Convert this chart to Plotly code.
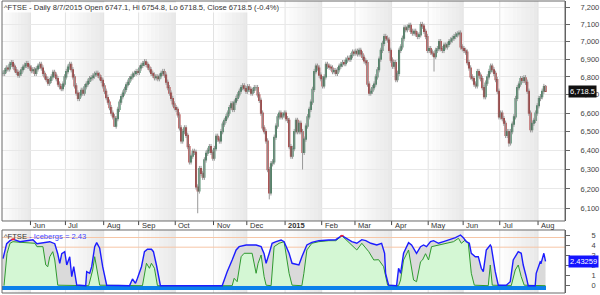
import math
import pandas as pd
import plotly.graph_objects as go

# ---------------- data ----------------
START_DATE = "2014-05-08"
CLOSE = [
    6820, 6835, 6850, 6845, 6870, 6880, 6860, 6840, 6825, 6810,
    6820, 6840, 6855, 6865, 6875, 6860, 6850, 6835, 6840, 6820,
    6845, 6860, 6870, 6850, 6820, 6800, 6785, 6765, 6780, 6800,
    6825, 6810, 6790, 6760, 6745, 6735, 6760, 6800, 6830, 6855,
    6870, 6840, 6800, 6750, 6710, 6680, 6700, 6725, 6710, 6745,
    6760, 6775, 6790, 6795, 6805, 6815, 6820, 6810, 6795, 6780,
    6750, 6720, 6685, 6660, 6630, 6600, 6580, 6530, 6570, 6620,
    6660, 6690, 6710, 6730, 6755, 6770, 6790, 6800, 6815, 6820,
    6830, 6825, 6850, 6865, 6875, 6885, 6870, 6855, 6840, 6820,
    6810, 6795, 6800, 6790, 6805, 6820, 6830, 6810, 6770, 6740,
    6710, 6680, 6650, 6630, 6620, 6590, 6520, 6450, 6500, 6520,
    6480, 6420, 6340, 6370, 6395, 6390, 6210, 6190, 6305, 6280,
    6260, 6350, 6385, 6400, 6420, 6390, 6360, 6410, 6475, 6460,
    6450, 6500, 6540, 6560, 6580, 6600, 6630, 6650, 6620, 6660,
    6680, 6700, 6720, 6740, 6750, 6735, 6720, 6745, 6730, 6710,
    6725, 6740, 6740, 6700, 6670, 6600, 6520, 6500, 6450, 6300,
    6180, 6330, 6340, 6470, 6530, 6580, 6600, 6580, 6590, 6600,
    6570, 6560, 6420, 6370, 6410, 6500, 6560, 6500, 6545, 6500,
    6390, 6460, 6530, 6580, 6620, 6660, 6730, 6830, 6860, 6850,
    6810, 6790, 6750, 6800, 6870, 6860, 6855, 6850, 6830, 6835,
    6820, 6840, 6860, 6870, 6880, 6875, 6895, 6905, 6900, 6920,
    6940, 6935, 6945, 6930, 6950, 6930, 6910, 6890, 6880, 6760,
    6710, 6720, 6740, 6760, 6800, 6840, 6900, 6950, 6990, 7030,
    7020, 7010, 6950, 6895, 6860, 6880, 6785, 6820, 6950, 6970,
    7020, 7080, 7070, 7085, 7095, 7060, 7050, 7060, 7045, 7030,
    7040, 7100, 7090, 7060, 7030, 6950, 6960, 6940, 6930, 6915,
    6950, 6960, 7000, 6960, 6950, 6980, 6970, 6985, 7000, 7010,
    7020, 7030, 7040, 7045, 7050, 6970, 6960, 6950, 6940, 6880,
    6850, 6800, 6790, 6760, 6750, 6830, 6810, 6790, 6740, 6690,
    6765, 6800, 6830, 6860, 6840, 6820, 6785, 6720, 6580, 6600,
    6570, 6545, 6480, 6500, 6440, 6500, 6540, 6580, 6680, 6740,
    6760, 6790, 6780, 6795, 6770, 6720, 6600, 6510, 6545, 6560,
    6600, 6640, 6680, 6690, 6720, 6746, 6718.5,
]
LAST_OPEN, LAST_HIGH, LAST_LOW = 6747.1, 6754.8, 6718.5
WICK = 0.0022
DEEP_LOWS = {67: 6525, 117: 6077, 160: 6147, 180: 6300, 259: 6830, 304: 6420}

# Icebergs indicator (x = bar index, value)
BLUE_X = [0, 2.2, 4.2, 6, 10.2, 16.2, 18, 20.4, 24, 28.1, 31.1, 32.9, 34.1, 35.3, 37.1, 38.3,
          40.1, 41.3, 42.5, 44.3, 49.7, 50.3, 52.1, 53.3, 55.1, 56.3, 58.1, 59.9, 62.3, 76,
          77.8, 79.6, 80.8, 83.2, 85, 86.8, 89.2, 90.4, 92.2, 94, 94.6, 131.7, 134.7, 137.7,
          140.1, 141.9, 146.1, 152.1, 155.1, 156.9, 158.1, 159.9, 161.7, 164.1, 167.1, 168.9,
          171.9, 173.7, 176.6, 177.8, 179.6, 182.6, 185.6, 189.8, 195.8, 200, 203.6, 206.6,
          209.6, 212.6, 215.6, 218, 221, 224.6, 227.5, 229.3, 229.9, 231.7, 236.5, 237.7,
          238.9, 240.7, 243.7, 245.5, 248.5, 250.9, 252.7, 254.5, 256.9, 258.7, 261.7, 264.7,
          268.9, 271.9, 274.9, 276.6, 278.4, 280.2, 281.4, 283.8, 285.6, 287.4, 288.6, 290.4,
          292.8, 293.4, 295.8, 297.6, 302.4, 304.8, 306.6, 309.6, 311.4, 312.6, 314.4, 315.6,
          319.8, 320.4, 322.8, 323.4, 325, 326]
BLUE_V = [2.7, 4.2, 4.5, 4.65, 4.4, 4.57, 4.6, 4.2, 4.3, 4.4, 4.2, 3.2, 2.24, 3.2, 3.4, 2.07,
          2.9, 0.9, 1.9, 0.07, 0, 1.4, 1.24, 1.9, 3.9, 4.3, 3.74, 1.9, 0.05, 0,
          0.67, 0.24, 0.74, 1.9, 3.4, 3.64, 3.64, 3.4, 2.07, 0.17, 0, 0, 1.4, 2.57,
          3.57, 3.9, 4.07, 4.07, 3.9, 3.2, 2.24, 3.2, 4.24, 4.4, 4.57, 4.4,
          3.24, 2.24, 2.07, 2.07, 2.9, 4.07, 4.34, 4.5, 4.57, 4.6, 5.0, 4.74,
          4.4, 4.24, 4.6, 4.5, 4.24, 4.07, 4.24, 3.24, 1.24, 0.05, 0, 1.74,
          1.24, 3.24, 4.3, 4.07, 3.24, 3.9, 4.07, 3.9, 4.4, 4.5, 4.24, 4.4,
          4.6, 4.8, 5.07, 4.8, 4.4, 4.24, 3.24, 2.9, 2.9, 1.74, 1.4, 3.57,
          4.07, 3.9, 1.4, 0.05, 0.05, 0.4, 2.57, 3.4, 3.24, 2.07, 0.9, 0,
          0, 1.24, 2.4, 2.3, 3.24, 2.43]
GREEN_X = [0.6, 2.4, 4.2, 6, 10.2, 16.2, 19.2, 20.4, 24, 25.7, 26.9, 28.1, 29.9, 31.1, 32.9,
           51.5, 53.9, 55.1, 56.3, 58.1, 83.8, 86.2, 88, 89.2, 91, 92.8, 137.7, 138.9, 140.7,
           143.1, 144.9, 149.7, 152.1, 153.3, 155.1, 156.9, 158.1, 161.1, 162.9, 165.9, 168.9,
           171.9, 173.7, 179.6, 180.8, 182.6, 185.6, 189.8, 195.8, 200, 203.6, 209.6, 212.6,
           215.6, 219.8, 222.8, 225.7, 228.7, 231.1, 237.7, 238.9, 240.7, 243.7, 246.7, 248.5,
           250.9, 252.1, 253.9, 255.7, 257.5, 261.7, 266.5, 270.7, 273.7, 275.4, 277.8, 279.6,
           281.4, 283.2, 291.6, 292.8, 294, 305.4, 307.8, 309.6, 311.4, 313.2, 326]
GREEN_V = [0, 3.2, 4.24, 4.4, 4.34, 4.3, 4.24, 3.9, 3.9, 2.07, 1.9, 2.9, 3.4, 2.57, 0.05,
           0, 1.57, 2.9, 1.9, 0.05, 0, 2.24, 1.74, 2.24, 1.74, 0, 0, 0.74, 0.4,
           2.9, 3.24, 3.24, 1.24, 2.24, 3.07, 0.9, 0.05, 0, 3.9, 4.24, 4.4,
           1.24, 0.05, 0, 1.24, 3.57, 4.24, 4.4, 4.5, 4.5, 5.0, 4.07, 3.57,
           4.24, 3.4, 2.57, 2.6, 1.9, 0.05, 0, 0.57, 2.57, 3.57, 0.57, 0.4,
           2.4, 2.57, 3.2, 2.57, 3.9, 4.07, 4.24, 4.4, 4.74, 4.24, 4.57, 4.24,
           1.24, 0.05, 0, 2.07, 0.05, 0, 1.57, 2.07, 0.9, 0.05, 0]
RED_X = [[5.0, 7.0], [202.6, 204.6]]
RED_V = [[4.62, 4.66], [4.95, 5.02]]
ZONE_DEPTH = -0.47
ORANGE_LEVELS = [4.82, 3.85]
LAST_ICEBERG = 2.43259

PRICE_TICKS = [6100, 6200, 6300, 6400, 6500, 6600, 6700, 6800, 6900, 7000, 7100, 7200]
LOWER_TICKS = [0, 1, 2, 3, 4, 5]
HEADER = "^FTSE - Daily 8/7/2015 Open 6747.1, Hi 6754.8, Lo 6718.5, Close 6718.5 (-0.4%)"
MONTH_NAMES = {1: "2015", 2: "Feb", 3: "Mar", 4: "Apr", 5: "May", 6: "Jun", 7: "Jul",
               8: "Aug", 9: "Sep", 10: "Oct", 11: "Nov", 12: "Dec"}

# ---------------- build ----------------
n = len(CLOSE)
dates = pd.bdate_range(START_DATE, periods=n)
idx = list(range(n))
OPEN = [CLOSE[0]] + CLOSE[:-1]
OPEN[-1] = LAST_OPEN
HIGH = [max(o, c) * (1 + WICK) for o, c in zip(OPEN, CLOSE)]
LOW = [min(o, c) * (1 - WICK) for o, c in zip(OPEN, CLOSE)]
for k, v in DEEP_LOWS.items():
    LOW[k] = v
HIGH[-1], LOW[-1] = LAST_HIGH, LAST_LOW

month_starts = [i for i in range(1, n) if dates[i].month != dates[i - 1].month]

X0, X1 = -0.6, 337.7
MAIN_DOM = [0.2466, 1.0]
LOW_DOM = [0.0, 0.2158]
FONT = "Liberation Sans, Arial, sans-serif"
GREEN_C, RED_C = "#1c6b40", "#9c1010"

fig = go.Figure()

# wicks
wx, wy = [], []
for i in idx:
    wx += [i, i, None]
    wy += [LOW[i], HIGH[i], None]
fig.add_trace(go.Scatter(x=wx, y=wy, mode="lines", line=dict(color="#999999", width=1),
                         hoverinfo="skip", xaxis="x", yaxis="y"))
# bodies
fig.add_trace(go.Candlestick(
    x=idx, open=OPEN, close=CLOSE,
    high=[max(o, c) for o, c in zip(OPEN, CLOSE)],
    low=[min(o, c) for o, c in zip(OPEN, CLOSE)],
    increasing=dict(line=dict(color=GREEN_C, width=1.2), fillcolor=GREEN_C),
    decreasing=dict(line=dict(color=RED_C, width=1.2), fillcolor=RED_C),
    whiskerwidth=0, xaxis="x", yaxis="y"))

# lower panel
fig.add_trace(go.Bar(x=idx, y=[ZONE_DEPTH] * n, width=1, marker=dict(color="#0b80ea", line=dict(width=0)),
                     xaxis="x2", yaxis="y2"))
fig.add_trace(go.Scatter(x=BLUE_X, y=BLUE_V, mode="lines", fill="tozeroy", fillcolor="#dadada",
                         line=dict(width=0), xaxis="x2", yaxis="y2"))
fig.add_trace(go.Scatter(x=GREEN_X, y=GREEN_V, mode="lines", fill="tozeroy", fillcolor="#d4f7d4",
                         line=dict(color="#2f9a2f", width=1), xaxis="x2", yaxis="y2"))
fig.add_trace(go.Scatter(x=BLUE_X, y=BLUE_V, mode="lines", line=dict(color="#1c1cff", width=1.4),
                         xaxis="x2", yaxis="y2"))
for rx, rv in zip(RED_X, RED_V):
    fig.add_trace(go.Scatter(x=rx, y=rv, mode="lines", line=dict(color="#ff2020", width=1.6),
                             xaxis="x2", yaxis="y2"))

shapes = []
# gradient month shading
bounds = [X0] + [m - 0.5 for m in month_starts] + [n]
for j in range(len(bounds) - 1):
    month = dates[0].month if j == 0 else dates[month_starts[j - 1]].month
    if month % 2 == 1:
        s, e = bounds[j], bounds[j + 1]
        N = 9
        for k in range(N):
            a = 0.0095 * (k + 1)
            for dom in (MAIN_DOM, LOW_DOM):
                shapes.append(dict(type="rect", xref="x", yref="paper",
                                   x0=s + (e - s) * k / N, x1=s + (e - s) * (k + 1) / N,
                                   y0=dom[0], y1=dom[1], fillcolor=f"rgba(0,0,0,{a:.3f})",
                                   line=dict(width=0), layer="below"))
# month gridlines + ticks in date strip
for m in month_starts:
    for dom in (MAIN_DOM, LOW_DOM):
        shapes.append(dict(type="line", xref="x", yref="paper", x0=m - 0.5, x1=m - 0.5,
                           y0=dom[0], y1=dom[1], line=dict(color="#e2e2e2", width=1), layer="below"))
    shapes.append(dict(type="line", xref="x", yref="paper", x0=m - 0.5, x1=m - 0.5,
                       y0=MAIN_DOM[0] - 0.014, y1=MAIN_DOM[0], line=dict(color="#444", width=1)))
# orange levels
for lv in ORANGE_LEVELS:
    shapes.append(dict(type="line", xref="paper", yref="y2", x0=0, x1=1, y0=lv, y1=lv,
                       line=dict(color="#f6c6a6", width=1), layer="below"))
# borders
for dom in (MAIN_DOM, LOW_DOM):
    shapes.append(dict(type="rect", xref="paper", yref="paper", x0=0, x1=1, y0=dom[0], y1=dom[1],
                       line=dict(color="#6a6a6a", width=1)))

annotations = [
    dict(text=HEADER, xref="paper", yref="paper", x=0, y=1, xanchor="left", yanchor="top",
         xshift=1, yshift=-1, showarrow=False, font=dict(family=FONT, size=7.6, color="#333"),
         bgcolor="rgba(255,255,255,0.85)", borderpad=0),
    dict(text="^FTSE <span style='color:#4646ff'>- Icebergs = 2.43</span>", xref="paper", yref="paper",
         x=0, y=LOW_DOM[1], xanchor="left", yanchor="top", xshift=1, yshift=-1, showarrow=False,
         font=dict(family=FONT, size=7.6, color="#333"), borderpad=0),
    dict(text=f"{CLOSE[-1]:,.1f}", xref="paper", yref="y", x=1, y=math.log10(CLOSE[-1]),
         xanchor="left", xshift=3, showarrow=False, bgcolor="#111", borderpad=1,
         font=dict(family=FONT, size=7.5, color="white")),
    dict(text=f"{LAST_ICEBERG:.5f}", xref="paper", yref="y2", x=1, y=LAST_ICEBERG,
         xanchor="left", xshift=3, showarrow=False, bgcolor="#1414ff", borderpad=1,
         font=dict(family=FONT, size=7.5, color="white")),
]
label_y = (MAIN_DOM[0] + LOW_DOM[1]) / 2
for m in month_starts:
    mon = dates[m].month
    txt = MONTH_NAMES[mon]
    if mon == 1:
        txt = "<b>" + txt + "</b>"
    annotations.append(dict(text=txt, xref="x", yref="paper", x=m - 0.5, y=label_y,
                            xanchor="left", yanchor="middle", xshift=1, showarrow=False,
                            font=dict(family=FONT, size=7.5, color="#333")))

fig.update_layout(
    width=600, height=295, margin=dict(l=2, r=33, t=1, b=2),
    paper_bgcolor="white", plot_bgcolor="white", showlegend=False,
    bargap=0, hovermode=False,
    xaxis=dict(domain=[0, 1], range=[X0, X1], showgrid=False, zeroline=False,
               showticklabels=False, ticks="", anchor="y", rangeslider=dict(visible=False)),
    xaxis2=dict(domain=[0, 1], range=[X0, X1], matches="x", showgrid=False, zeroline=False,
                showticklabels=False, ticks="", anchor="y2"),
    yaxis=dict(domain=MAIN_DOM, type="log", range=[3.78092, 3.85967], side="right", anchor="x",
               tickvals=PRICE_TICKS, ticktext=[f"{v:,}" for v in PRICE_TICKS],
               showgrid=True, gridcolor="#e8e8e8", gridwidth=1, zeroline=False,
               ticks="outside", ticklen=4, tickcolor="#666", showline=True, linecolor="#5a5a5a",
               tickfont=dict(family=FONT, size=7.5, color="#444"), ticklabelstandoff=9),
    yaxis2=dict(domain=LOW_DOM, range=[-0.73, 5.57], side="right", anchor="x2",
                tickvals=LOWER_TICKS, showgrid=False, zeroline=False,
                ticks="outside", ticklen=4, tickcolor="#666", showline=True, linecolor="#5a5a5a",
                tickfont=dict(family=FONT, size=7.5, color="#444"), ticklabelstandoff=20),
    shapes=shapes, annotations=annotations,
)

fig.write_html("out.html")
